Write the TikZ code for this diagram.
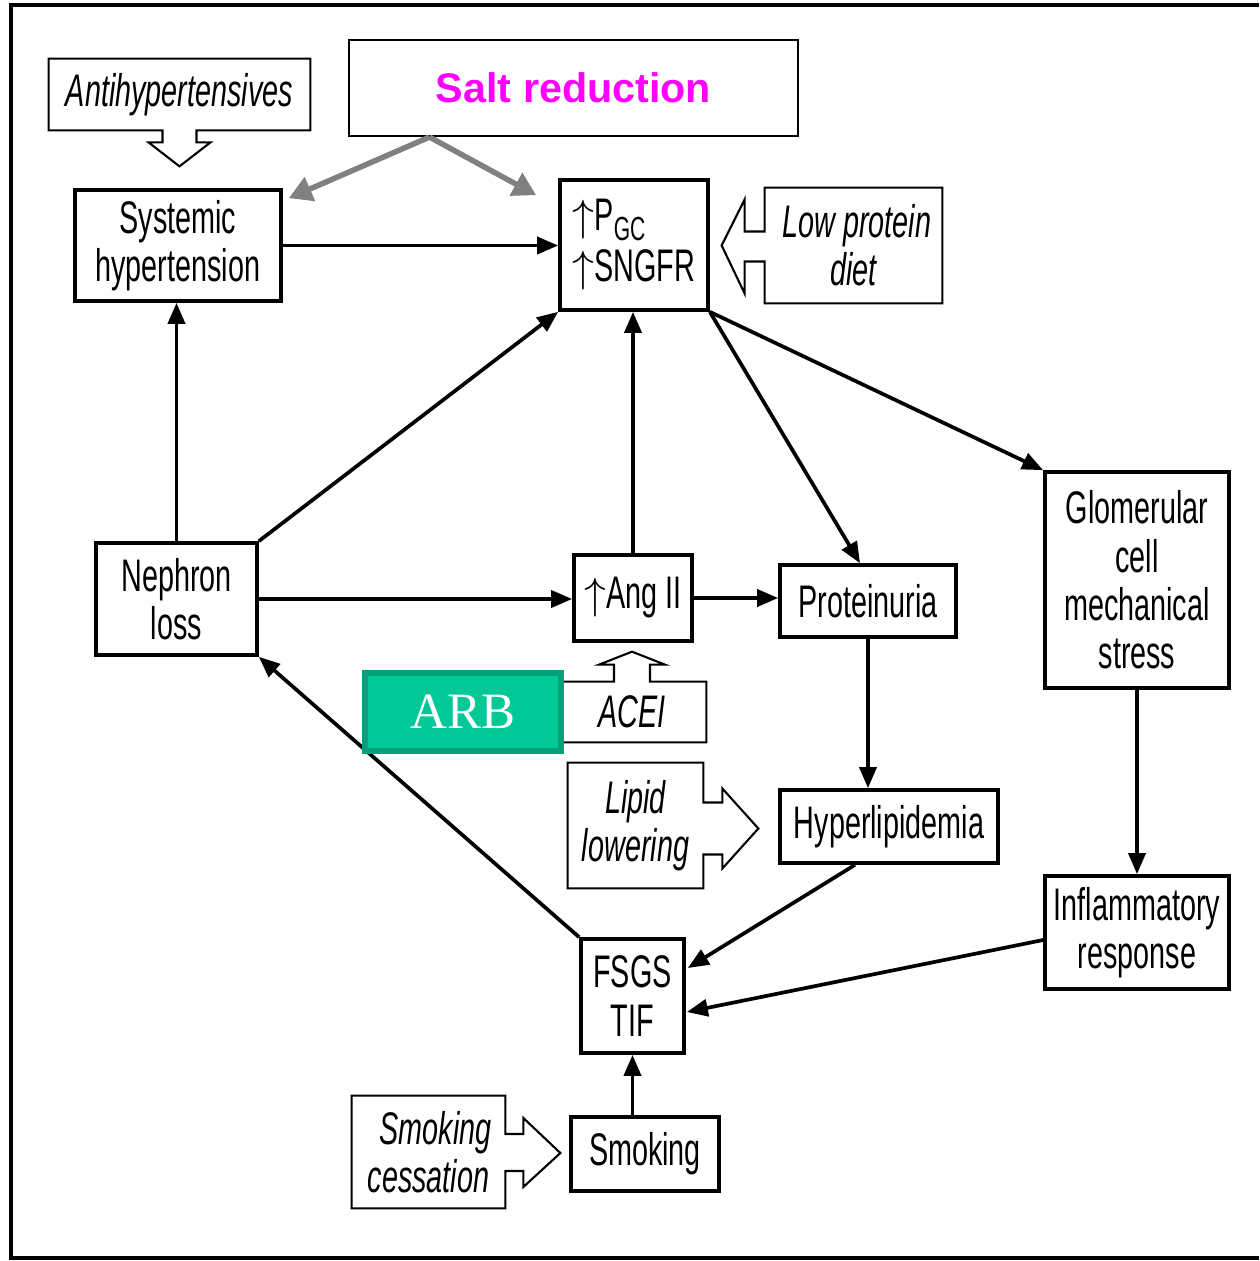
\documentclass[tikz,border=0pt]{standalone}
\usepackage{fontspec}
\setmainfont[FakeStretch=0.63]{Liberation Sans}
\newfontfamily\saltfont{Liberation Sans}
\newfontfamily\arbfont{Liberation Serif}
\usetikzlibrary{arrows.meta,calc}
\definecolor{arbfill}{RGB}{0,200,150}
\definecolor{arbline}{RGB}{0,160,120}
\definecolor{saltpink}{RGB}{255,0,255}
\definecolor{arrgray}{RGB}{128,128,128}
\newcommand\diagfs{\fontsize{26}{27.5}\selectfont}
\tikzset{
  sz/.style 2 args={minimum width=#1*0.02cm, minimum height=#2*0.02cm},
  box/.style={draw, line width=2.1pt, align=center, inner sep=0pt, font=\diagfs},
  ibox/.style={align=center, inner sep=0pt, font=\diagfs\itshape},
  iline/.style={line width=1.2pt, line join=miter},
  arr/.style={line width=2.1pt, -{Triangle[length=0.42cm,width=0.34cm]}},
  garr/.style={draw=arrgray, line width=0.11cm, -{Triangle[length=0.46cm,width=0.5cm]}},
}
\begin{document}
\begin{tikzpicture}[x=0.02cm,y=-0.02cm]
\useasboundingbox (0,0) rectangle (1259,1261);
\fill[white] (0,0) rectangle (1259,1261);
% outer frame
\draw[line width=1.8pt] (1259,5) -- (11,5) -- (11,1258) -- (1259,1258);

% main boxes
\node[box, sz={206}{111}] (sys) at (178,245.5) {Systemic\\hypertension};
\node[draw, line width=1.2pt, sz={449}{96}, inner sep=0pt, text=saltpink, font=\saltfont\bfseries\fontsize{23.5}{25}\selectfont] (salt) at (573.5,88) {Salt reduction};
\node[box, sz={148}{130}, align=left, font=\fontsize{26}{29}\selectfont] (pgc) at (634,245) {$\uparrow$P\raisebox{-0.4ex}{\fontsize{19}{19}\selectfont GC}\\$\uparrow$SNGFR};
\node[box, sz={161}{112}] (nep) at (176.5,599) {Nephron\\loss};
\node[box, sz={118}{86}] (ang) at (633,598) {$\uparrow$Ang II};
\node[box, sz={176}{72}] (prot) at (868,601) {Proteinuria};
\node[box, sz={184}{216}] (glom) at (1137,580) {Glomerular\\cell\\mechanical\\stress};
\node[box, sz={218}{73}] (hyper) at (889,826.5) {Hyperlipidemia};
\node[box, sz={184}{113}] (infl) at (1137,932.5) {Inflammatory\\response};
\node[box, sz={103}{114}] (fsgs) at (632.5,996) {FSGS\\TIF};
\node[box, sz={148}{74}] (smok) at (645,1154) {Smoking};

% intervention boxes (text only, outlines drawn below)
\node[ibox, sz={261}{71}] (anti) at (179.5,94.5) {Antihypertensives};
\node[ibox, sz={177}{115}] (lowp) at (853.5,245.5) {\hspace*{4pt}Low protein\\diet};
\node[ibox, sz={148}{60}] (acei) at (632,712) {ACEI};
\node[ibox, sz={135}{125}] (lipid) at (635.5,825.5) {Lipid\\lowering};
\node[ibox, sz={153}{112}] (smcs) at (428.5,1152) {\hspace*{8pt}Smoking\\cessation};

% outlines with hollow arrows
\draw[iline] (anti.south west) -- (anti.north west) -- (anti.north east) -- (anti.south east)
  -- ($(anti.south)+(17,0)$) -- ++(0,12) -- ++(14,0) -- ($(anti.south)+(0,36)$)
  -- ($(anti.south)+(-31,12)$) -- ++(14,0) -- ++(0,-12) -- cycle;
\draw[iline] (lowp.west) ++(0,16) -- (lowp.south west) -- (lowp.south east) -- (lowp.north east) -- (lowp.north west)
  -- ($(lowp.west)+(0,-14)$) -- ++(-20,0) -- ++(0,-32) -- ($(lowp.west)+(-43,0)$)
  -- ($(lowp.west)+(-20,48)$) -- ++(0,-32) -- cycle;
\draw[iline] ($(acei.north)+(18,0)$) -- ++(0,-17) -- ++(15,0) -- ($(acei.north)+(0,-30)$)
  -- ($(acei.north)+(-33,-17)$) -- ++(15,0) -- ++(0,17) -- (acei.north west) -- (acei.south west)
  -- (acei.south east) -- (acei.north east) -- cycle;
\draw[iline] ($(lipid.east)+(0,-23)$) -- ++(19,0) -- ++(0,-14) -- ($(lipid.east)+(55,3)$)
  -- ($(lipid.east)+(19,43)$) -- ++(0,-14) -- ++(-19,0) -- (lipid.south east) -- (lipid.south west)
  -- (lipid.north west) -- (lipid.north east) -- cycle;
\draw[iline] ($(smcs.east)+(0,-18)$) -- ++(18,0) -- ++(0,-16) -- ($(smcs.east)+(55,1)$)
  -- ($(smcs.east)+(18,35)$) -- ++(0,-16) -- ++(-18,0) -- (smcs.south east) -- (smcs.south west)
  -- (smcs.north west) -- (smcs.north east) -- cycle;

% connectors
\draw[arr] (sys.east) -- (sys.east -| pgc.west);
\draw[arr] (nep.north) -- (nep.north |- sys.south);
\draw[arr] (nep.north east) -- (pgc.south west);
\draw[arr] (nep.east) -- (nep.east -| ang.west);
\draw[arr] (ang.north) -- (ang.north |- pgc.south);
\draw[arr] (ang.east) -- (ang.east -| prot.west);
\draw[arr] (pgc.south east) -- ($(prot.north)+(-8,0)$);
\draw[arr] (pgc.south east) -- (glom.north west);
\draw[arr] (prot.south) -- (prot.south |- hyper.north);
\draw[arr] (glom.south) -- (infl.north);
\draw[arr] ($(hyper.south)+(-34,0)$) -- ($(fsgs.east)+(2,-28)$);
\draw[arr] ($(infl.west)+(0,7.5)$) -- ($(fsgs.east)+(1,16)$);
\draw[arr] (fsgs.north west) -- (nep.south east);
\draw[arr] (fsgs.south |- smok.north) -- (fsgs.south);

% salt reduction arrows
\draw[garr] ($(salt.south)+(-144,0)$) -- ($(sys.north east)+(6,10)$);
\draw[garr] ($(salt.south)+(-144,0)$) -- ($(pgc.north west)+(-22,17)$);

% ARB
\node[draw=arbline, fill=arbfill, line width=3pt, sz={196}{78}, inner sep=0pt, text=white,
  font=\arbfont\fontsize{29}{30}\selectfont] (arb) at (463,712) {ARB};
\end{tikzpicture}
\end{document}
